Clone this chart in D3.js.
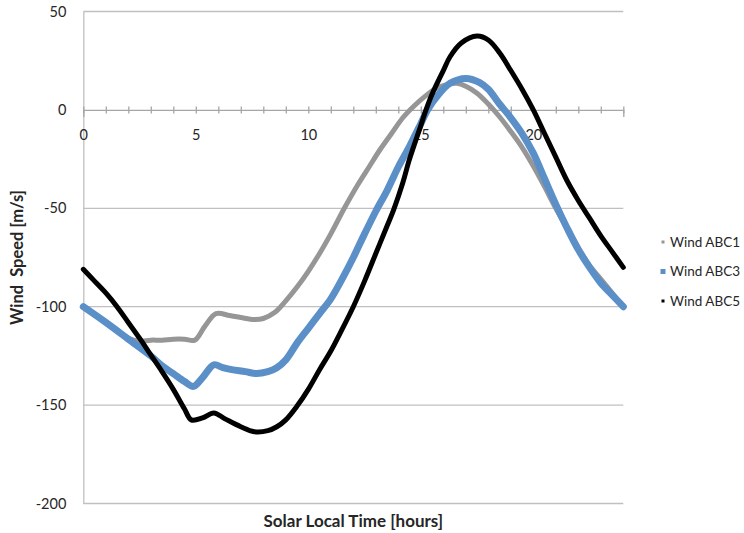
<!DOCTYPE html>
<html>
<head>
<meta charset="utf-8">
<script src="https://cdn.jsdelivr.net/npm/d3@7"></script>
<style>
  body { margin: 0; background: #fff; }
  text { font-family: Lato, "Open Sans", sans-serif; fill: #262626; }
</style>
</head>
<body>
<div id="chart"></div>
<script>
// values
var seriesNames = ["Wind ABC1", "Wind ABC3", "Wind ABC5"];

var abc1Hours = [0, 0.5, 1, 1.5, 2, 2.5, 3, 3.5, 4, 4.5, 4.95, 5.4, 5.9, 6.5, 7, 7.6, 8, 8.5, 9, 9.5, 10, 10.5, 11, 11.6, 12.2, 12.7, 13.2, 13.7, 14.2, 14.7, 15.2, 15.7, 16.2, 16.6, 17, 17.5, 18, 18.5, 19, 19.5, 20, 20.5, 21, 21.5, 22, 22.5, 23, 23.5, 24];
var abc1Speed = [-100, -104, -108, -112, -116, -117.5, -117, -117, -116.5, -116.5, -117, -110, -103.5, -104.5, -105.5, -106.5, -106, -103, -97, -90, -82, -73, -63, -50, -38, -29, -20, -12, -4, 2, 7, 11, 13, 13.5, 12, 8.5, 3, -3.5, -11, -19, -28.5, -39, -50, -60, -70, -79, -86, -93, -100];

var abc3Hours = [0, 1, 2, 3, 3.5, 4, 4.5, 4.9, 5.3, 5.8, 6.2, 6.6, 7.2, 7.7, 8.2, 8.6, 9, 9.5, 10, 10.5, 11, 11.5, 12, 12.5, 13, 13.5, 14, 14.5, 15, 15.3, 15.8, 16.3, 17, 17.6, 18, 18.5, 19, 19.5, 20, 20.5, 21, 21.5, 22, 22.5, 23, 23.5, 24];
var abc3Speed = [-100, -108, -116.5, -125, -130, -134, -138, -140.5, -136, -129.5, -131, -132, -133, -134, -133, -131, -127, -118.5, -111, -103.5, -96, -86, -75, -63, -51.5, -41, -29, -18.5, -7, 0, 8, 13.5, 16, 14, 10.5, 3, -4, -12, -22, -35, -48, -60, -71, -80, -88, -94, -100];

var abc5Hours = [0, 0.5, 1, 1.5, 2, 2.5, 3, 3.5, 4, 4.5, 4.8, 5.3, 5.8, 6.3, 7, 7.6, 8.2, 8.6, 9, 9.5, 10, 10.5, 11, 11.5, 12, 12.5, 13, 13.5, 13.8, 14.2, 14.5, 15, 15.2, 15.5, 16, 16.3, 16.8, 17.5, 18, 18.5, 19, 19.5, 20, 20.5, 21, 21.5, 22, 22.5, 23, 23.5, 24];
var abc5Speed = [-81, -87, -93, -100, -108, -116, -124.5, -133, -142, -152, -157.5, -156.5, -154, -157, -161, -163.5, -163, -161, -157.5, -150.5, -142, -132, -122.5, -111.5, -100, -87, -73, -59, -50.5, -37, -25, -8, -1, 8, 20, 27, 34, 37.5, 35.5, 29, 20, 10.5, 0, -12, -24, -36, -46, -55, -64, -72, -80];

var yTicks = [-200, -150, -100, -50, 0, 50];
var xLabelTicks = [0, 5, 10, 15, 20];
var xMinorTicks = d3.range(0, 25, 1);

var seriesColors = ["#969696", "#5b8fc8", "#000000"];
var seriesWidths = [5, 7, 5];

var width = 744,
    height = 533;

var x = d3.scaleLinear().domain([0, 24]).range([83.3, 623.3]);
var y = d3.scaleLinear().domain([-200, 50]).range([503.5, 11.5]);

var svg = d3.select("#chart")
    .append("svg")
    .attr("width", width)
    .attr("height", height);

// horizontal grid lines
svg.append("g")
    .selectAll("line")
    .data(yTicks.filter(function (d) { return d !== 0; }))
    .enter().append("line")
    .attr("x1", x(0))
    .attr("x2", x(24))
    .attr("y1", function (d) { return y(d); })
    .attr("y2", function (d) { return y(d); })
    .attr("stroke", "#c0c0c0")
    .attr("stroke-width", 1.3);

// left axis (plain hyphen minus like the original)
var yAxis = svg.append("g")
    .attr("transform", "translate(" + x(0) + ",0)")
    .call(d3.axisLeft(y).tickValues(yTicks).tickSize(0).tickPadding(17)
        .tickFormat(function (d) { return String(d); }));
yAxis.select(".domain").attr("stroke", "#c0c0c0").attr("stroke-width", 1.3);
yAxis.selectAll("text").style("font-size", "14.5px").attr("fill", "#262626");

// zero axis with hour ticks
var xAxis = svg.append("g")
    .attr("transform", "translate(0," + y(0) + ")")
    .call(d3.axisBottom(x).tickValues(xMinorTicks).tickSize(7).tickFormat(""));
xAxis.select(".domain").attr("stroke", "#a6a6a6").attr("stroke-width", 1.3);
xAxis.selectAll(".tick line")
    .attr("y1", -3.5).attr("y2", 3.5)
    .attr("stroke", "#a6a6a6").attr("stroke-width", 1.3);

var xLabels = svg.append("g")
    .attr("transform", "translate(0," + y(0) + ")")
    .call(d3.axisBottom(x).tickValues(xLabelTicks).tickSize(0).tickPadding(20));
xLabels.select(".domain").remove();
xLabels.selectAll("text").style("font-size", "14.5px").attr("fill", "#262626");

var line = d3.line()
    .x(function (d) { return x(d[0]); })
    .y(function (d) { return y(d[1]); })
    .curve(d3.curveCatmullRom.alpha(0.5));

var allHours = [abc1Hours, abc3Hours, abc5Hours];
var allSpeeds = [abc1Speed, abc3Speed, abc5Speed];

for (var i = 0; i < seriesNames.length; i++) {
    var pts = d3.zip(allHours[i], allSpeeds[i]);
    svg.append("path")
        .datum(pts)
        .attr("d", line)
        .attr("fill", "none")
        .attr("stroke", seriesColors[i])
        .attr("stroke-width", seriesWidths[i])
        .attr("stroke-linejoin", "round")
        .attr("stroke-linecap", "round");
}

// axis titles
svg.append("text")
    .attr("x", (x(0) + x(24)) / 2)
    .attr("y", 527)
    .attr("text-anchor", "middle")
    .style("font-size", "17px")
    .style("font-weight", "bold")
    .text("Solar Local Time [hours]");

svg.append("text")
    .attr("transform", "translate(23," + (y(-200) + y(50)) / 2 + ") rotate(-90)")
    .attr("text-anchor", "middle")
    .style("font-size", "16.5px")
    .style("font-weight", "bold")
    .style("white-space", "pre")
    .text("Wind  Speed [m/s]");

// legend
var legend = svg.append("g")
    .selectAll("g")
    .data(seriesNames)
    .enter().append("g")
    .attr("transform", function (d, i) { return "translate(663," + (242 + i * 29.5) + ")"; });

legend.append("rect")
    .attr("x", function (d, i) { return i === 1 ? -2.5 : -1.5; })
    .attr("y", function (d, i) { return i === 1 ? -2.5 : -1.5; })
    .attr("width", function (d, i) { return i === 1 ? 5 : 3; })
    .attr("height", function (d, i) { return i === 1 ? 5 : 3; })
    .attr("fill", function (d, i) { return seriesColors[i]; });

legend.append("text")
    .attr("x", 7)
    .attr("y", 4.5)
    .style("font-size", "13.5px")
    .text(function (d) { return d; });
</script>
</body>
</html>
